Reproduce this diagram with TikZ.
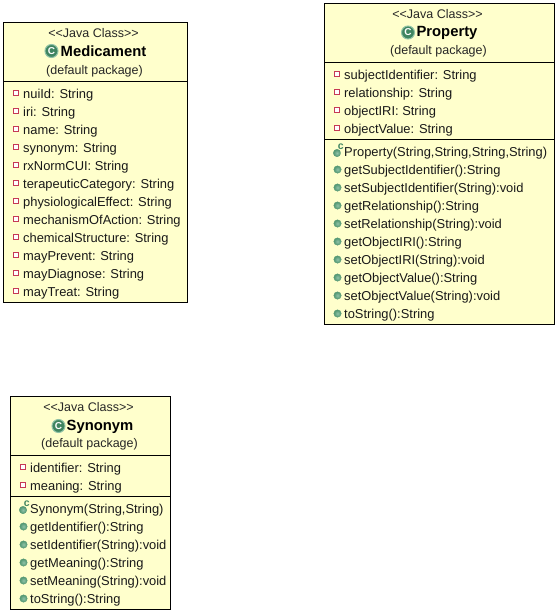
\documentclass[tikz,border=0pt]{standalone}
\usepackage{fontspec}
\setmainfont{Liberation Sans}
\definecolor{umlfill}{HTML}{FFFFCC}
\definecolor{attrred}{HTML}{C63A55}
\definecolor{methgreen}{HTML}{4F9570}
\definecolor{methlight}{HTML}{8FC2A6}
\definecolor{classgreen}{HTML}{3F8560}
\tikzset{
  x=1pt,y=-1pt,
  classbox/.style={draw=black,fill=umlfill,line width=1pt,rectangle,inner sep=0pt,outer sep=0pt},
  sepline/.style={draw=black,line width=1pt},
  hdr/.style={font=\fontsize{12.5}{14}\selectfont,inner sep=0pt,anchor=center,text=black!85},
  title/.style={font=\fontsize{14.8}{16}\selectfont\bfseries,inner sep=0pt,anchor=center},
  row/.style={font=\fontsize{12.9}{15}\selectfont,inner sep=0pt,anchor=base west,text=black!90},
  attric/.style={draw=attrred,fill=white,line width=1.5pt,rectangle,minimum size=5pt,inner sep=0pt},
  methic/.style={inner color=methlight,outer color=methgreen,draw=methgreen,line width=.3pt,circle,minimum size=7.5pt,inner sep=0pt},
  classic/.style={fill=classgreen,draw=methlight,line width=1pt,circle,minimum size=13pt,inner sep=0pt,text=white,font=\fontsize{10}{10}\selectfont\bfseries},
  ctoric/.style={font=\fontsize{10.5}{9}\selectfont\bfseries,text=classgreen,inner sep=0pt},
}
% name, icon x, text x, centre y, text
\newcommand{\attrrow}[5]{%
  \node[attric] (#1i) at (#2,#4) {};
  \node[row] (#1) at (#3,#4+5.2) {#5};}
\newcommand{\methrow}[5]{%
  \node[methic] (#1i) at (#2+.5,#4+.5) {};
  \node[row] (#1) at (#3,#4+5.2) {#5};}
\newcommand{\ctorrow}[5]{%
  \node[methic] (#1i) at (#2,#4+2) {};
  \node[ctoric] (#1c) at (#2+3.7,#4-4.5) {c};
  \node[row] (#1) at (#3,#4+5.2) {#5};}
\begin{document}
\begin{tikzpicture}
\useasboundingbox (0,0) rectangle (558,613);
% Medicament
\node[classbox,minimum width=184pt,minimum height=280pt] (medbox) at (95.5,162.5) {};
\draw[sepline] (medbox.west |- 0,81.5) -- (medbox.east |- 0,81.5);
\node[hdr] (medst) at (93.5,33) {<{}<Java Class>{}>};
\node[title] (medt) at (103.5,51.7) {Medicament};
\node[classic] (medc) at (51.5,51) {C};
\node[hdr] (medp) at (94.5,71) {(default package)};
\attrrow{m1}{16}{23}{93}{nuiId: String}
\attrrow{m2}{16}{23}{111}{iri: String}
\attrrow{m3}{16}{23}{129}{name: String}
\attrrow{m4}{16}{23}{147}{synonym: String}
\attrrow{m5}{16}{23}{165}{rxNormCUI: String}
\attrrow{m6}{16}{23}{183}{terapeuticCategory: String}
\attrrow{m7}{16}{23}{201}{physiologicalEffect: String}
\attrrow{m8}{16}{23}{219}{mechanismOfAction: String}
\attrrow{m9}{16}{23}{237}{chemicalStructure: String}
\attrrow{m10}{16}{23}{255}{mayPrevent: String}
\attrrow{m11}{16}{23}{273}{mayDiagnose: String}
\attrrow{m12}{16}{23}{291}{mayTreat: String}
% Property
\node[classbox,minimum width=230pt,minimum height=321pt] (probox) at (439.5,164) {};
\draw[sepline] (probox.west |- 0,62.5) -- (probox.east |- 0,62.5);
\draw[sepline] (probox.west |- 0,139.5) -- (probox.east |- 0,139.5);
\node[hdr] (prost) at (437.5,14) {<{}<Java Class>{}>};
\node[title] (prot) at (447,33.3) {Property};
\node[classic] (proc) at (408,32.5) {C};
\node[hdr] (prop) at (438.5,51) {(default package)};
\attrrow{p1}{337}{344}{74}{subjectIdentifier: String}
\attrrow{p2}{337}{344}{92}{relationship: String}
\attrrow{p3}{337}{344}{110}{objectIRI: String}
\attrrow{p4}{337}{344}{128}{objectValue: String}
\ctorrow{p5}{337}{344}{151}{Property(String,String,String,String)}
\methrow{p6}{337}{344}{169}{getSubjectIdentifier():String}
\methrow{p7}{337}{344}{187}{setSubjectIdentifier(String):void}
\methrow{p8}{337}{344}{205}{getRelationship():String}
\methrow{p9}{337}{344}{223}{setRelationship(String):void}
\methrow{p10}{337}{344}{241}{getObjectIRI():String}
\methrow{p11}{337}{344}{259}{setObjectIRI(String):void}
\methrow{p12}{337}{344}{277}{getObjectValue():String}
\methrow{p13}{337}{344}{295}{setObjectValue(String):void}
\methrow{p14}{337}{344}{313}{toString():String}
% Synonym
\node[classbox,minimum width=160pt,minimum height=213pt] (synbox) at (90.5,503) {};
\draw[sepline] (synbox.west |- 0,455.5) -- (synbox.east |- 0,455.5);
\draw[sepline] (synbox.west |- 0,496.5) -- (synbox.east |- 0,496.5);
\node[hdr] (synst) at (88.5,407) {<{}<Java Class>{}>};
\node[title] (synt) at (100,426.7) {Synonym};
\node[classic] (sync) at (58.5,426) {C};
\node[hdr] (synp) at (89.5,444) {(default package)};
\attrrow{s1}{23}{30}{467}{identifier: String}
\attrrow{s2}{23}{30}{485}{meaning: String}
\ctorrow{s3}{23}{30}{508}{Synonym(String,String)}
\methrow{s4}{23}{30}{526}{getIdentifier():String}
\methrow{s5}{23}{30}{544}{setIdentifier(String):void}
\methrow{s6}{23}{30}{562}{getMeaning():String}
\methrow{s7}{23}{30}{580}{setMeaning(String):void}
\methrow{s8}{23}{30}{598}{toString():String}
\end{tikzpicture}
\end{document}
